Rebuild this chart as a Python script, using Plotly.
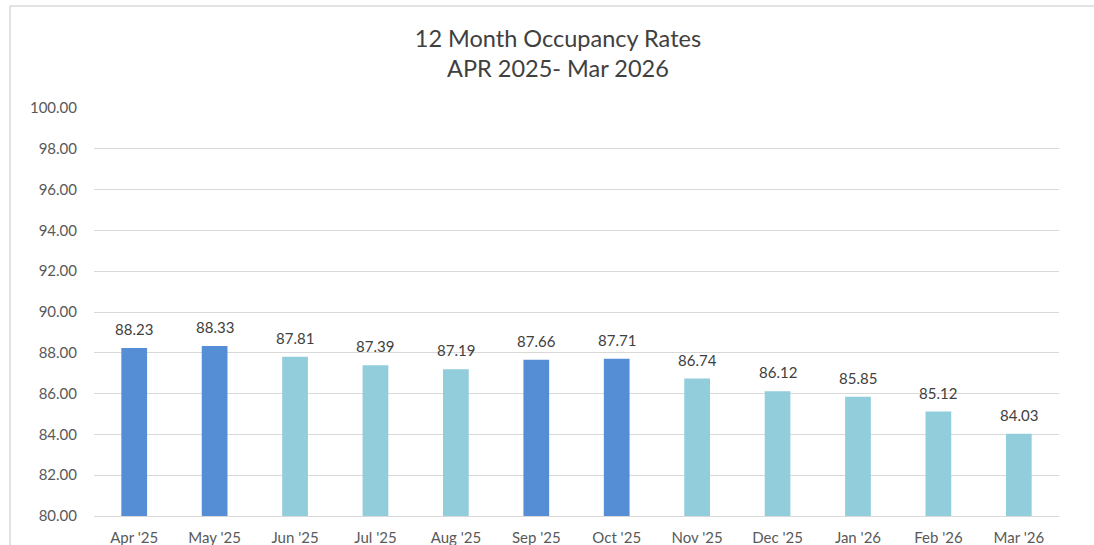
import plotly.graph_objects as go

months = ["Apr '25", "May '25", "Jun '25", "Jul '25", "Aug '25", "Sep '25",
          "Oct '25", "Nov '25", "Dec '25", "Jan '26", "Feb '26", "Mar '26"]
rates = [88.23, 88.33, 87.81, 87.39, 87.19, 87.66, 87.71, 86.74, 86.12, 85.85, 85.12, 84.03]
highlight = [True, True, False, False, False, True, True, False, False, False, False, False]

DARK = "#558ED5"
LIGHT = "#92CDDC"
colors = [DARK if h else LIGHT for h in highlight]

fig = go.Figure(go.Bar(
    x=months, y=rates,
    marker=dict(color=colors, line=dict(width=0)),
    width=0.32,
    cliponaxis=False,
    hoverinfo="x+y",
))

annotations = [dict(x=m, y=v, xref="x", yref="y", text=f"{v:.2f}", showarrow=False,
                    yanchor="bottom", yshift=8,
                    font=dict(size=15, color="#404040"))
               for m, v in zip(months, rates)]

fig.update_layout(
    width=1094, height=545,
    margin=dict(l=94, r=35, t=108, b=29),
    paper_bgcolor="white", plot_bgcolor="white",
    font=dict(family="Lato, Open Sans, sans-serif", color="#595959"),
    title=dict(text="12 Month Occupancy Rates<br>APR 2025- Mar 2026",
               x=0.51, xanchor="center", y=0.914, yanchor="middle",
               font=dict(size=23.5, color="#404040")),
    showlegend=False,
    annotations=annotations,
    shapes=[dict(type="rect", xref="paper", yref="paper",
                 x0=(10 - 94) / 965, x1=1.2, y0=-0.3, y1=1 + (108 - 6) / 408,
                 line=dict(color="#d9d9d9", width=1.5), fillcolor="rgba(0,0,0,0)",
                 layer="below")],
)
fig.update_yaxes(range=[80, 100], dtick=2, tickformat=".2f",
                 showgrid=True, gridcolor="#d9d9d9", gridwidth=1,
                 zeroline=False, showline=False, ticks="",
                 ticklabelstandoff=16,
                 tickfont=dict(size=15, color="#595959"), automargin=False)
fig.update_xaxes(showgrid=False, showline=True, linecolor="#d9d9d9", linewidth=1,
                 ticks="", ticklabelstandoff=8,
                 tickfont=dict(size=15, color="#595959"), automargin=False)

fig.write_html("out.html", config={"displayModeBar": False},
               post_script="document.body.style.margin='0';")
